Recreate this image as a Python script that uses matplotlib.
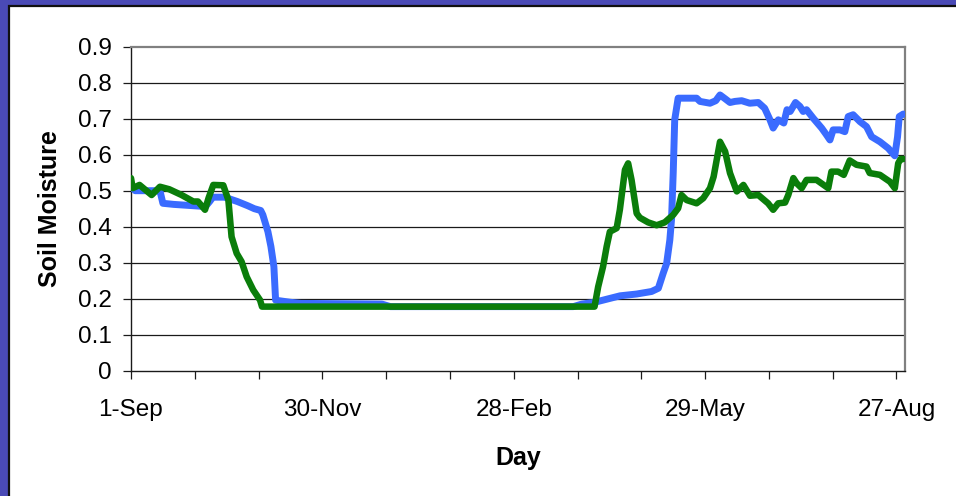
import matplotlib
matplotlib.use("Agg")
import matplotlib.pyplot as plt
from matplotlib.patches import Rectangle

# ---- data ----
blue_days = [0, 2, 6, 12, 13.6, 15, 20, 30, 35, 37, 38.5, 44, 50, 55, 58, 61, 62,
             64.4, 65.8, 67.2, 68, 69, 75, 80, 118, 122, 208, 212, 218, 222, 230,
             237.8, 244.8, 248, 250.3, 251.9, 253.4, 254.2, 255, 255.7, 257.3, 266,
             267.6, 272.3, 275, 277, 279.5, 281.7, 284, 287.2, 291, 295, 298, 300.5,
             302, 304.4, 307, 308.5, 310, 312.5, 314.6, 316.1, 317.7, 320.9, 324.8,
             327.1, 328.7, 330.2, 333.4, 335.7, 337.3, 339.6, 342.8, 345.9, 348.3,
             352.2, 356.1, 359.2, 360.5, 361.3, 363.2]
blue_vals = [0.511, 0.50, 0.50, 0.50, 0.50, 0.465, 0.462, 0.458, 0.456, 0.47, 0.482,
             0.482, 0.47, 0.458, 0.45, 0.445, 0.433, 0.386, 0.345, 0.289, 0.196, 0.195,
             0.19, 0.187, 0.185, 0.178, 0.178, 0.185, 0.19, 0.196, 0.208, 0.213, 0.220,
             0.229, 0.271, 0.298, 0.363, 0.42, 0.55, 0.697, 0.757, 0.757, 0.748, 0.743,
             0.75, 0.766, 0.755, 0.745, 0.748, 0.750, 0.743, 0.745, 0.729, 0.697, 0.674,
             0.697, 0.688, 0.725, 0.720, 0.745, 0.734, 0.720, 0.725, 0.701, 0.674, 0.655,
             0.641, 0.669, 0.669, 0.664, 0.706, 0.711, 0.692, 0.678, 0.650, 0.636, 0.618,
             0.597, 0.650, 0.706, 0.713]

green_days = [0, 0.8, 4, 9.7, 13.6, 18, 23.8, 29.3, 31.5, 34.8, 36.5, 38.7, 43.4, 45.8,
              47.3, 49.7, 52, 54.4, 57.5, 60.7, 61.6, 218, 219.7, 222, 223.7, 225.2,
              228.4, 229.9, 232.3, 233.8, 235.4, 237.8, 239.3, 243.2, 247.2, 251, 255,
              257.3, 258.9, 261.3, 266, 269.1, 272.3, 274, 277, 279.4, 281.7, 284.9, 288,
              291.1, 295, 299.6, 302, 304.4, 307.6, 309.1, 311.5, 313, 315.4, 317.7,
              322.4, 327.9, 329.4, 332.5, 335.2, 338, 341.2, 345.9, 347.4, 352.2, 356.9,
              359.2, 360.8, 361.9, 363.2]
green_vals = [0.535, 0.507, 0.516, 0.488, 0.511, 0.504, 0.488, 0.470, 0.470, 0.447, 0.48,
              0.516, 0.515, 0.474, 0.372, 0.326, 0.303, 0.261, 0.224, 0.196, 0.178, 0.178,
              0.233, 0.289, 0.345, 0.386, 0.396, 0.447, 0.558, 0.576, 0.530, 0.437, 0.425,
              0.412, 0.404, 0.412, 0.433, 0.451, 0.488, 0.474, 0.465, 0.479, 0.507, 0.539,
              0.636, 0.609, 0.549, 0.498, 0.516, 0.486, 0.488, 0.465, 0.447, 0.465, 0.467,
              0.488, 0.535, 0.521, 0.507, 0.530, 0.530, 0.507, 0.553, 0.553, 0.544, 0.584,
              0.572, 0.567, 0.549, 0.544, 0.525, 0.507, 0.576, 0.588, 0.588]

x_tick_days = [0, 30, 60, 90, 120, 150, 180, 210, 240, 270, 300, 330, 360]
x_tick_labels = ["1-Sep", "", "", "30-Nov", "", "", "28-Feb", "", "", "29-May", "", "", "27-Aug"]
y_ticks = [0, 0.1, 0.2, 0.3, 0.4, 0.5, 0.6, 0.7, 0.8, 0.9]
y_tick_labels = ["0", "0.1", "0.2", "0.3", "0.4", "0.5", "0.6", "0.7", "0.8", "0.9"]

plt.rcParams['font.family'] = ['Liberation Sans', 'DejaVu Sans']

W, H = 956, 496
fig = plt.figure(figsize=(W / 100, H / 100), dpi=100, facecolor="#4A4AB6")

# white chart area panel (behind the axes)
panel = Rectangle((8.5 / W, -0.01), 1.02, (H - 6.5) / H + 0.01, transform=fig.transFigure,
                  facecolor="white", edgecolor="#101010", linewidth=1.6, zorder=-5)
fig.patches.append(panel)

left, right, top, bottom = 131, 905, 46.7, 370.7
ax = fig.add_axes([left / W, (H - bottom) / H, (right - left) / W, (bottom - top) / H])
ax.set_zorder(2)
ax.set_facecolor("white")

ax.plot(blue_days, blue_vals, color="#3A6BFF", lw=5.0, solid_joinstyle="round",
        solid_capstyle="round", zorder=3)
ax.plot(green_days, green_vals, color="#0A7D0A", lw=4.7, solid_joinstyle="round",
        solid_capstyle="round", zorder=4)

ax.set_xlim(0, 364)
ax.set_ylim(0, 0.9)
ax.set_yticks(y_ticks)
ax.set_yticklabels(y_tick_labels)
ax.set_xticks(x_tick_days)
ax.set_xticklabels(x_tick_labels)

for v in y_ticks[1:-1]:
    ax.axhline(v, color="#1a1a1a", lw=0.9, zorder=1)

for s in ["top", "right"]:
    ax.spines[s].set_color("#808080")
    ax.spines[s].set_linewidth(1.6)
for s in ["left", "bottom"]:
    ax.spines[s].set_color("#1a1a1a")
    ax.spines[s].set_linewidth(1.0)

ax.tick_params(axis="y", direction="out", length=6, width=0.9, color="#1a1a1a",
               labelsize=17.5, pad=8)
ax.tick_params(axis="x", direction="out", length=5.5, width=0.9, color="#1a1a1a",
               labelsize=17.5, pad=15)

fig.text((left + right) / 2 / W, 1 - 458 / H, "Day", ha="center", va="center",
         fontsize=18, fontweight="bold", zorder=3)
fig.text(50 / W, 1 - (top + bottom) / 2 / H, "Soil Moisture", ha="center", va="center",
         rotation=90, fontsize=18, fontweight="bold", zorder=3)

fig.savefig("out.png", dpi=100, facecolor=fig.get_facecolor())
